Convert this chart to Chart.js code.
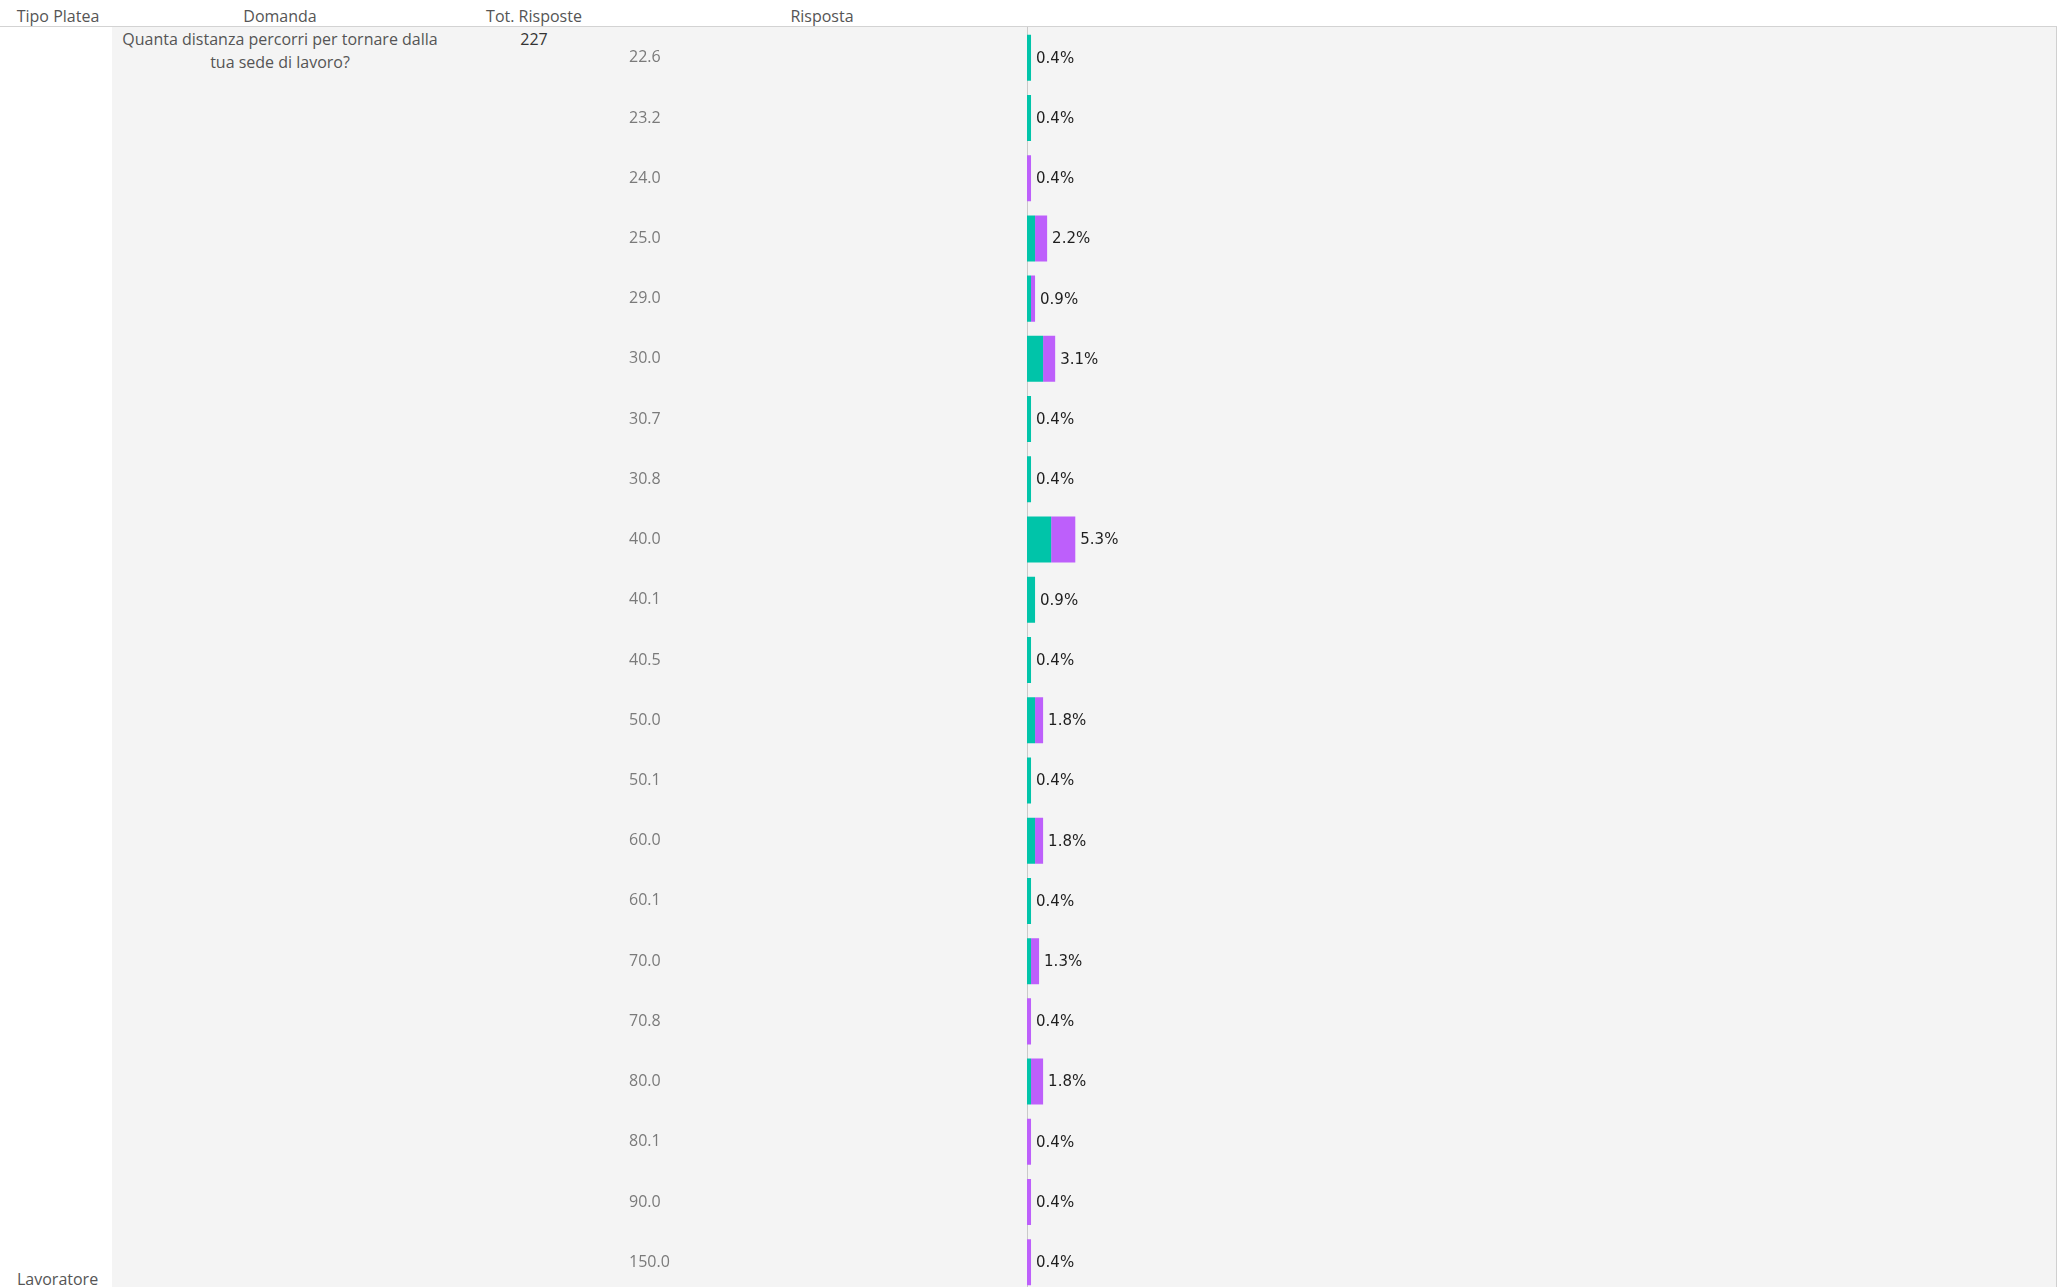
<!DOCTYPE html>
<html>
<head>
<meta charset="utf-8">
<script src="https://cdn.jsdelivr.net/npm/chart.js@4.4.1/dist/chart.umd.min.js"></script>
<style>
  body { margin: 0; width: 2063px; height: 1287px; overflow: hidden; background: #fff;
         font-family: "Open Sans", sans-serif; font-size: 16px; color: #555; }
  .abs { position: absolute; white-space: nowrap; }
  .hdr { top: 3px; line-height: 26px; text-align: center; }
  #panel { position: absolute; left: 112px; top: 27px; width: 1944px; height: 1260px;
           background: #f4f4f4; border-right: 1px solid #d0d0d0; }
  #rule { position: absolute; left: 0; top: 26px; width: 2057px; height: 1px; background: #d3d3d3; }
  /* the y scale keeps ~half a label of padding above and below, so the box starts a bit higher */
  #chartBox { position: absolute; left: 629px; top: 18px; width: 1427px; height: 1284px; }
</style>
</head>
<body>
<div id="panel"></div>
<div id="rule"></div>

<div class="abs hdr" style="left:0; width:116px;">Tipo Platea</div>
<div class="abs hdr" style="left:180px; width:200px;">Domanda</div>
<div class="abs hdr" style="left:454px; width:160px;">Tot. Risposte</div>
<div class="abs hdr" style="left:722px; width:200px;">Risposta</div>

<div class="abs" style="left:112px; width:336px; top:28px; line-height:23px; text-align:center; white-space:normal;">
  Quanta distanza percorri per tornare dalla<br>tua sede di lavoro?
</div>
<div class="abs" id="tot" style="left:494px; width:80px; top:28px; line-height:23px; text-align:center; color:#333;"></div>
<div class="abs" style="left:17px; top:1266px; line-height:26px;">Lavoratore</div>

<div id="chartBox"><canvas id="risposte" width="1427" height="1284"></canvas></div>

<script>
const totRisposte = 227;

const risposte = [
  '22.6', '23.2', '24.0', '25.0', '29.0', '30.0', '30.7', '30.8', '40.0', '40.1', '40.5',
  '50.0', '50.1', '60.0', '60.1', '70.0', '70.8', '80.0', '80.1', '90.0', '150.0'
];

// percentuali sul totale delle risposte, per i due gruppi
const quotaVerde = [
  0.44, 0.44, 0, 0.88, 0.44, 1.76, 0.44, 0.44, 2.64, 0.88, 0.44,
  0.88, 0.44, 0.88, 0.44, 0.44, 0, 0.44, 0, 0, 0
];
const quotaViola = [
  0, 0, 0.44, 1.32, 0.44, 1.32, 0, 0, 2.64, 0, 0,
  0.88, 0, 0.88, 0, 0.88, 0.44, 1.32, 0.44, 0.44, 0.44
];

document.getElementById('tot').textContent = totRisposte;

// scrive la percentuale totale a destra di ogni barra
const etichetteTotali = {
  id: 'etichetteTotali',
  afterDatasetsDraw(chart) {
    const ctx = chart.ctx;
    const xs = chart.scales.x, ys = chart.scales.y;
    ctx.save();
    ctx.font = '15px "DejaVu Sans"';
    ctx.fillStyle = '#1e1e1e';
    ctx.textAlign = 'left';
    ctx.textBaseline = 'middle';
    risposte.forEach((r, i) => {
      const tot = quotaVerde[i] + quotaViola[i];
      ctx.fillText(tot.toFixed(1) + '%', xs.getPixelForValue(tot) + 5, ys.getPixelForValue(i) + 1);
    });
    ctx.restore();
  }
};

const data_risposte = {
  labels: risposte,
  datasets: [{
    label: 'Gruppo 1',
    data: quotaVerde,
    backgroundColor: '#00c4a9'
  }, {
    label: 'Gruppo 2',
    data: quotaViola,
    backgroundColor: '#bd5ffb'
  }]
};

const config_risposte = {
  type: 'bar',
  data: data_risposte,
  options: {
    indexAxis: 'y',
    responsive: false,
    animation: false,
    layout: { padding: 0 },
    datasets: { bar: { categoryPercentage: 1, barPercentage: 0.764, borderWidth: 0 } },
    plugins: {
      legend: { display: false },
      tooltip: { enabled: false }
    },
    scales: {
      x: {
        stacked: true,
        min: 0,
        max: 112.5,
        display: false
      },
      y: {
        stacked: true,
        afterFit(scale) { scale.width = 398; },
        grid: { display: false, drawTicks: false },
        border: { display: true, color: '#c9c9c9', width: 1 },
        ticks: {
          crossAlign: 'far',
          padding: 0,
          color: '#7a7a7a',
          font: { family: 'Open Sans', size: 16 }
        }
      }
    }
  },
  plugins: [etichetteTotali]
};

const chart_risposte = new Chart(
  document.getElementById('risposte'),
  config_risposte
);
</script>
</body>
</html>
